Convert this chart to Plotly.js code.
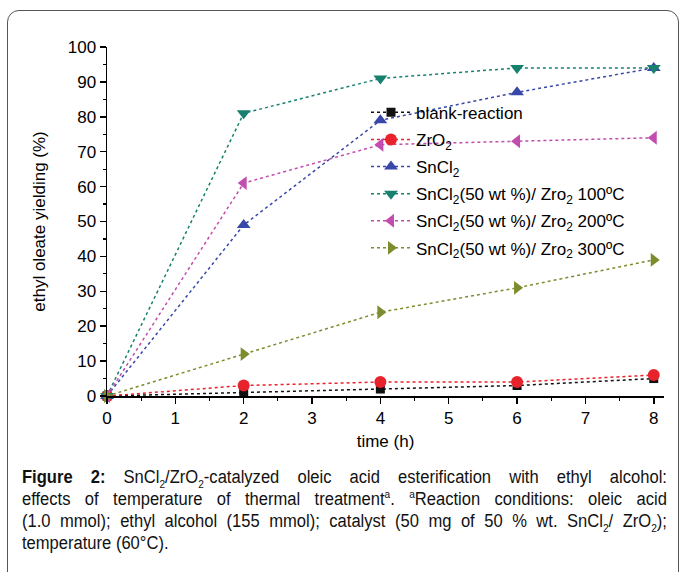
<!DOCTYPE html>
<html>
<head>
<meta charset="utf-8">
<script src="https://cdn.plot.ly/plotly-3.0.1.min.js"></script>
<style>
html,body{margin:0;padding:0;width:683px;height:572px;overflow:hidden;background:#fff;}
#frame{position:absolute;left:7px;top:10px;width:672px;height:600px;border:1.5px solid #555;border-radius:12px;box-sizing:border-box;pointer-events:none;}
#chart{position:absolute;left:0;top:0;width:683px;height:572px;}
#caption{position:absolute;left:22px;top:466px;width:701px;transform:scaleX(0.92);transform-origin:0 0;font-family:"Liberation Sans",Arial,sans-serif;font-size:18px;line-height:22px;color:#111;}
#caption div{text-align:justify;text-align-last:justify;white-space:nowrap;}
#caption div.last{text-align-last:left;}
#caption sub,#caption sup{font-size:11px;line-height:0;}
</style>
</head>
<body>
<div id="chart"></div>
<div id="frame"></div>
<div id="caption">
<div><b>Figure 2:</b> SnCl<sub>2</sub>/ZrO<sub>2</sub>-catalyzed oleic acid esterification with ethyl alcohol:</div>
<div>effects of temperature of thermal treatment<sup>a</sup>. <sup>a</sup>Reaction conditions: oleic acid</div>
<div>(1.0 mmol); ethyl alcohol (155 mmol); catalyst (50 mg of 50 % wt. SnCl<sub>2</sub>/ ZrO<sub>2</sub>);</div>
<div class="last">temperature (60°C).</div>
</div>
<script>
var timeH = [0, 2, 4, 6, 8];
var blankReaction = [0, 1, 2, 3, 5];
var zrO2 = [0, 3, 4, 4, 6];
var snCl2 = [0, 49, 79, 87, 94];
var sn100 = [0, 81, 91, 94, 94];
var sn200 = [0, 61, 72, 73, 74];
var sn300 = [0, 12, 24, 31, 39];
var seriesNames = [
  "blank-reaction",
  "ZrO<sub>2</sub>",
  "SnCl<sub>2</sub>",
  "SnCl<sub>2</sub>(50 wt %)/ Zro<sub>2</sub> 100ºC",
  "SnCl<sub>2</sub>(50 wt %)/ Zro<sub>2</sub> 200ºC",
  "SnCl<sub>2</sub>(50 wt %)/ Zro<sub>2</sub> 300ºC"
];
var seriesValues = [blankReaction, zrO2, snCl2, sn100, sn200, sn300];
var colors = ["#111111", "#e8232b", "#3848a8", "#17806f", "#c24daf", "#7d8c2e"];
var symbols = ["square", "circle", "triangle-up", "triangle-down", "triangle-left", "triangle-right"];
var sizes = [9, 12, 12, 12, 12, 12];

var traces = seriesValues.map(function (vals, i) {
  return {
    x: timeH, y: vals, name: seriesNames[i], type: "scatter", mode: "lines+markers",
    line: {color: colors[i], width: 1.5, dash: "dot"},
    marker: {color: colors[i], symbol: symbols[i], size: sizes[i]},
    cliponaxis: false, legendgroup: "g" + i
  };
});

var layout = {
  width: 683, height: 572,
  margin: {l: 107, r: 19, t: 47, b: 176},
  paper_bgcolor: "rgba(0,0,0,0)", plot_bgcolor: "rgba(0,0,0,0)",
  font: {family: "Liberation Sans, Arial, sans-serif", size: 17, color: "#000"},
  showlegend: true,
  legend: {x: 0.465, y: 0.863, xanchor: "left", yanchor: "top", bgcolor: "rgba(0,0,0,0)",
           font: {size: 17}, itemwidth: 40, tracegroupgap: 2, traceorder: "grouped"},
  xaxis: {
    range: [0, 8.15], showline: true, linecolor: "#000", linewidth: 1.5, zeroline: false, showgrid: false,
    ticks: "outside", ticklen: 6, tickwidth: 1.5, tickcolor: "#000", dtick: 1, tick0: 0,
    minor: {ticks: "outside", ticklen: 3, dtick: 0.5, tickcolor: "#000", tickwidth: 1.2},
    tickfont: {size: 17},
    title: {text: "time (h)", font: {size: 17}, standoff: 8}
  },
  yaxis: {
    range: [0, 100], showline: true, linecolor: "#000", linewidth: 1.5, zeroline: false, showgrid: false,
    ticks: "outside", ticklen: 6, tickwidth: 1.5, tickcolor: "#000", dtick: 10, tick0: 0,
    minor: {ticks: "outside", ticklen: 3, dtick: 5, tickcolor: "#000", tickwidth: 1.2},
    tickfont: {size: 17},
    title: {text: "ethyl oleate yielding (%)", font: {size: 17}, standoff: 18}
  }
};
Plotly.newPlot("chart", traces, layout, {displayModeBar: false, staticPlot: true});
</script>
</body>
</html>
